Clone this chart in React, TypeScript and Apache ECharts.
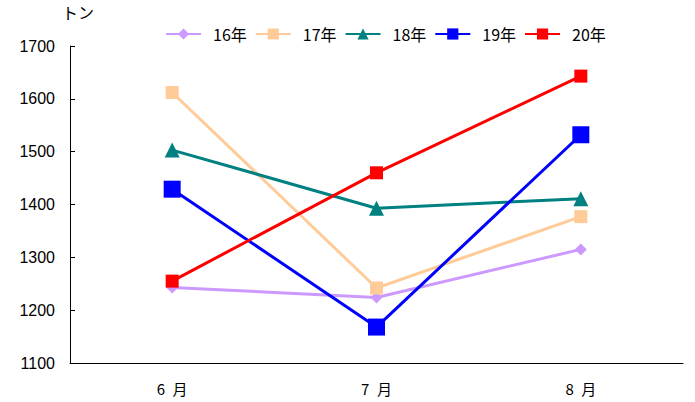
import React, { useEffect, useRef } from "react";
import * as echarts from "echarts";

const categories = ["6 月", "7 月", "8 月"];
const seriesNames = ["16年", "17年", "18年", "19年", "20年"];
const s16 = [1243, 1224, 1315];
const s17 = [1612, 1242, 1377];
const s18 = [1503, 1393, 1411];
const s19 = [1429, 1168, 1532];
const s20 = [1255, 1460, 1643];
const yTicks = [1100, 1200, 1300, 1400, 1500, 1600, 1700];

const colors = ["#CC99FF", "#FFCC99", "#008080", "#0000FF", "#FF0000"];
const symbols = ["diamond", "rect", "triangle", "rect", "rect"];
const symbolSizes = [12, 13, 15, 17, 13];

export default function App() {
  const ref = useRef<HTMLDivElement>(null);
  useEffect(() => {
    if (!ref.current) return;
    const chart = echarts.init(ref.current, null, { renderer: "svg" });
    const data = [s16, s17, s18, s19, s20];
    const font = "'Noto Sans CJK JP', 'Liberation Sans', sans-serif";
    chart.setOption({
      animation: false,
      backgroundColor: "#ffffff",
      textStyle: { fontFamily: font },
      grid: { left: 70, right: 12, top: 46, bottom: 39, containLabel: false },
      legend: {
        top: 21,
        left: 160,
        itemWidth: 35,
        itemHeight: 14,
        itemGap: 8,
        textStyle: { fontSize: 16, color: "#000", fontFamily: font, padding: [0, 0, 0, 7] },
        data: seriesNames,
      },
      graphic: [
        {
          type: "text",
          left: 62,
          top: 4,
          style: { text: "トン", fill: "#000", font: `16px ${font}` },
        },
      ],
      xAxis: {
        type: "category",
        data: categories,
        boundaryGap: true,
        axisLine: { lineStyle: { color: "#000", width: 1 } },
        axisTick: { inside: true, length: 5, lineStyle: { color: "#000" } },
        axisLabel: {
          color: "#000",
          fontSize: 15,
          margin: 18,
          formatter: (v: string) => v.replace(" ", "\u2002"),
        },
      },
      yAxis: {
        type: "value",
        min: yTicks[0],
        max: yTicks[yTicks.length - 1],
        interval: 100,
        axisLine: { show: true, lineStyle: { color: "#000", width: 1 } },
        axisTick: { show: true, inside: true, length: 5, lineStyle: { color: "#000" } },
        splitLine: { show: false },
        axisLabel: {
          color: "#000",
          fontSize: 16,
          margin: 15,
          fontFamily: "'Liberation Sans', sans-serif",
          formatter: (v: number) => String(v),
        },
      },
      series: seriesNames.map((name, i) => ({
        name,
        type: "line",
        data: data[i],
        symbol: symbols[i],
        symbolSize: symbolSizes[i],
        showAllSymbol: true,
        lineStyle: { color: colors[i], width: 3 },
        itemStyle: { color: colors[i] },
        emphasis: { disabled: true },
      })),
    });
    return () => chart.dispose();
  }, []);
  return (
    <div
      ref={ref}
      style={{ position: "absolute", left: 0, top: 0, width: 695, height: 402 }}
    />
  );
}
